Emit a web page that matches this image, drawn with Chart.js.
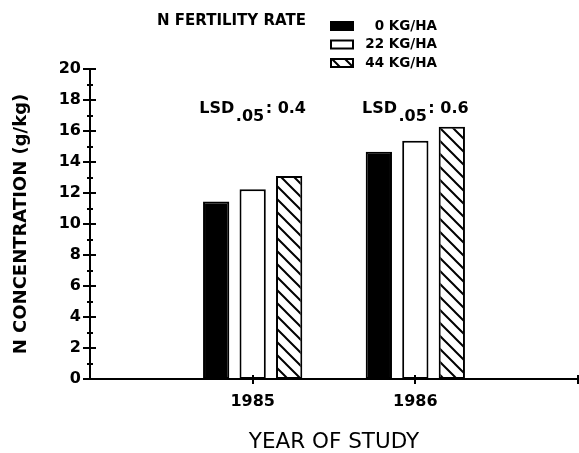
<!DOCTYPE html>
<html>
<head>
<meta charset="utf-8">
<script src="https://cdn.jsdelivr.net/npm/chart.js@4.4.1/dist/chart.umd.min.js"></script>
<style>
  html, body { margin: 0; padding: 0; background: #fff; }
  #wrap { width: 579px; height: 453px; }
</style>
</head>
<body>
<div id="wrap"><canvas id="chart-bars"></canvas></div>
<script>
// values
const years = ['1985', '1986'];
const rateLabels = ['0 KG/HA', '22 KG/HA', '44 KG/HA'];
const rate0 = [11.45, 14.66];
const rate22 = [12.24, 15.37];
const rate44 = [13.10, 16.27];
const lsd = [0.4, 0.6];

const FONT = '"DejaVu Sans", sans-serif';

// empty slot each side so the axis runs past the two years
const pad = arr => [null, ...arr, null];

const canvas = document.getElementById('chart-bars');
const mainCtx = canvas.getContext('2d');

function hatch() {
  const s = 13;
  const c = document.createElement('canvas');
  c.width = s; c.height = s;
  const g = c.getContext('2d');
  g.fillStyle = '#fff';
  g.fillRect(0, 0, s, s);
  g.strokeStyle = '#000';
  g.lineWidth = 2;
  g.beginPath();
  g.moveTo(-1, -1); g.lineTo(s + 1, s + 1);
  g.moveTo(-3, s - 3); g.lineTo(3, s + 3);
  g.moveTo(s - 3, -3); g.lineTo(s + 3, 3);
  g.stroke();
  return mainCtx.createPattern(c, 'repeat');
}

const crossTicks = {
  id: 'crossTicks',
  afterDraw(chart) {
    const { ctx, chartArea, scales: { x, y } } = chart;
    ctx.save();
    ctx.strokeStyle = '#000';
    ctx.lineWidth = 2;
    ctx.beginPath();
    y.ticks.forEach(t => {
      const py = Math.round(y.getPixelForValue(t.value));
      const major = t.value % 2 === 0;
      ctx.moveTo(chartArea.left - (major ? 7 : 3), py);
      ctx.lineTo(chartArea.left + (major ? 6 : 3), py);
    });
    x.ticks.forEach((t, i) => {
      if (i === 0) return;
      const px = Math.round(x.getPixelForTick(i));
      ctx.moveTo(px, chartArea.bottom - 4);
      ctx.lineTo(px, chartArea.bottom + 5);
    });
    ctx.stroke();
    ctx.restore();
  }
};

const lsdLabels = {
  id: 'lsdLabels',
  afterDatasetsDraw(chart) {
    const { ctx, scales: { x, y } } = chart;
    ctx.save();
    ctx.fillStyle = '#000';
    ctx.textBaseline = 'alphabetic';
    ctx.textAlign = 'left';
    ctx.font = 'bold 16px ' + FONT;
    lsd.forEach((v, i) => {
      const parts = ['LSD', '.05', ': ' + v.toFixed(1)];
      const w = parts.map(p => ctx.measureText(p).width);
      const gap = 1.5;
      const total = w[0] + w[1] + w[2] + gap * 2;
      const cx = x.getPixelForValue(i + 1);
      const base = y.getPixelForValue(17.15);
      let px = cx - total / 2;
      ctx.fillText(parts[0], px, base);
      px += w[0] + gap;
      ctx.fillText(parts[1], px, base + 8);
      px += w[1] + gap;
      ctx.fillText(parts[2], px, base);
    });
    ctx.restore();
  }
};

const fertLegend = {
  id: 'fertLegend',
  afterDraw(chart) {
    const ctx = chart.ctx;
    ctx.save();
    ctx.fillStyle = '#000';
    ctx.font = 'bold 15px ' + FONT;
    ctx.textBaseline = 'middle';
    ctx.textAlign = 'left';
    ctx.fillText('N FERTILITY RATE', 157, 21);
    ctx.font = 'bold 13.5px ' + FONT;
    chart.data.datasets.forEach((ds, i) => {
      const yc = 26 + i * 18.5;
      ctx.fillStyle = ds.backgroundColor;
      ctx.fillRect(331, yc - 4, 22, 8);
      ctx.lineWidth = 2;
      ctx.strokeStyle = '#000';
      ctx.strokeRect(331, yc - 4, 22, 8);
      ctx.fillStyle = '#000';
      ctx.textAlign = 'right';
      ctx.fillText(ds.label, 437, yc);
    });
    ctx.restore();
  }
};

new Chart(canvas, {
  type: 'bar',
  data: {
    labels: pad(years).map(v => v || ''),
    datasets: [
      { label: rateLabels[0], data: pad(rate0), backgroundColor: '#000', borderColor: '#000', borderWidth: 2, borderSkipped: false },
      { label: rateLabels[1], data: pad(rate22), backgroundColor: '#fff', borderColor: '#000', borderWidth: 2, borderSkipped: false },
      { label: rateLabels[2], data: pad(rate44), backgroundColor: hatch(), borderColor: '#000', borderWidth: 2, borderSkipped: false }
    ]
  },
  options: {
    responsive: true,
    maintainAspectRatio: false,
    animation: false,
    categoryPercentage: 0.673,
    barPercentage: 0.72,
    layout: { padding: { top: 69, right: 1, left: 0, bottom: 0 } },
    plugins: {
      legend: { display: false },
      tooltip: { enabled: false }
    },
    scales: {
      x: {
        offset: false,
        grid: { display: false, drawTicks: false },
        border: { display: true, color: '#000', width: 2 },
        ticks: {
          color: '#000',
          autoSkip: false,
          maxRotation: 0,
          padding: 13,
          font: { family: FONT, size: 16, weight: 'bold' }
        },
        title: {
          display: true,
          text: 'YEAR OF STUDY',
          color: '#000',
          font: { family: FONT, size: 21.5, lineHeight: 1 },
          padding: { top: 0, bottom: 0 }
        },
        afterFit(scale) {
          scale.height = 74;
          scale.paddingLeft = 0;
          scale.paddingRight = 0;
        }
      },
      y: {
        min: 0,
        max: 20,
        grid: { display: false, drawTicks: false },
        border: { display: true, color: '#000', width: 2 },
        ticks: {
          stepSize: 1,
          autoSkip: false,
          color: '#000',
          padding: 9,
          font: { family: FONT, size: 16, weight: 'bold' },
          callback: v => (v % 2 === 0 ? v : '')
        },
        title: {
          display: true,
          text: 'N CONCENTRATION (g/kg)',
          color: '#000',
          font: { family: FONT, size: 18, weight: 'bold', lineHeight: 1 },
          padding: { top: 12, bottom: 0 }
        },
        afterFit(scale) { scale.width = 90; }
      }
    }
  },
  plugins: [crossTicks, lsdLabels, fertLegend]
});
</script>
</body>
</html>
